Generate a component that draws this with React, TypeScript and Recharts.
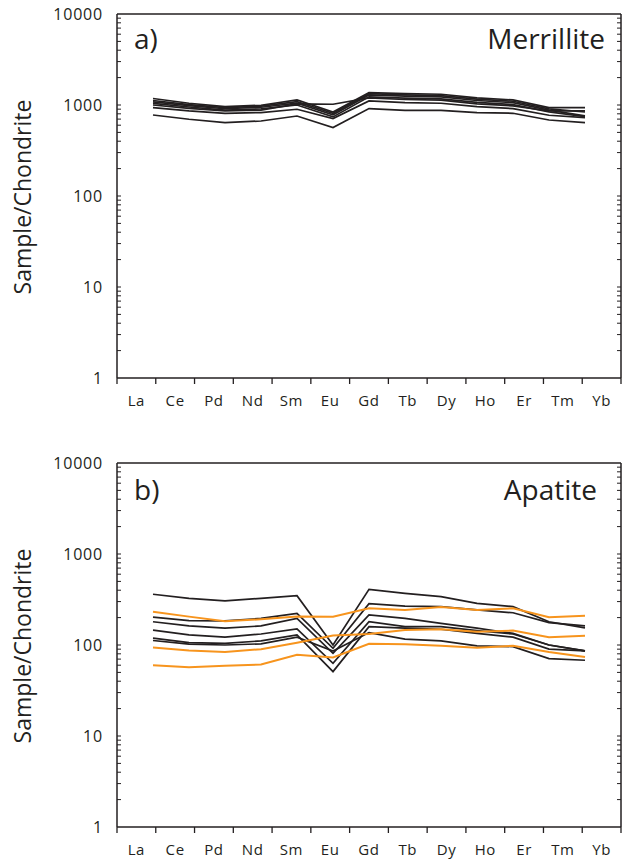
import React from "react";
import { LineChart, Line, XAxis, YAxis } from "recharts";

const elements = ["La", "Ce", "Pd", "Nd", "Sm", "Eu", "Gd", "Tb", "Dy", "Ho", "Er", "Tm", "Yb"];
const decadeTicks = [1, 10, 100, 1000, 10000];
const minorTicks = [
  2, 3, 4, 5, 6, 7, 8, 9, 10, 20, 30, 40, 50, 60, 70, 80, 90, 100, 200, 300, 400, 500, 600, 700, 800, 900,
  1000, 2000, 3000, 4000, 5000, 6000, 7000, 8000, 9000,
];

// a) Merrillite
const m1 = [1178, 1045, 961, 994, 1137, 838, 1371, 1336, 1313, 1196, 1137, 937, 937];
const m2 = [1120, 1010, 935, 970, 1090, 810, 1330, 1290, 1270, 1160, 1100, 905, 838];
const m3 = [1080, 985, 910, 945, 1050, 780, 1290, 1250, 1230, 1120, 1060, 880, 760];
const m4 = [1040, 950, 880, 905, 1000, 740, 1230, 1190, 1170, 1070, 1010, 840, 746];
const m5 = [937, 860, 811, 826, 898, 709, 1109, 1064, 1045, 961, 914, 771, 727];
const m6 = [1000, 920, 860, 880, 1030, 1019, 1200, 1150, 1130, 1030, 980, 860, 860];
const m7 = [777, 697, 641, 667, 757, 565, 914, 875, 875, 826, 811, 684, 641];

// b) Apatite, black
const b1 = [361, 326, 305, 326, 348, 100, 409, 370, 340, 287, 264, 180, 154];
const b2 = [202, 185, 184, 196, 223, 92, 284, 268, 264, 243, 226, 176, 162];
const b3 = [180, 162, 153, 162, 196, 81, 214, 196, 173, 153, 134, 100, 86];
const b4 = [146, 129, 122, 132, 150, 63, 180, 159, 159, 144, 132, 100, 86];
const b5 = [119, 106, 104, 111, 129, 51, 159, 153, 149, 134, 122, 90, 86];
const b6 = [112, 102, 100, 103, 122, 86, 137, 116, 111, 98, 96, 71, 68];
// b) Apatite, orange
const o1 = [232, 205, 182, 192, 206, 205, 253, 243, 262, 243, 253, 202, 210];
const o2 = [94, 87, 84, 90, 106, 127, 132, 146, 149, 140, 144, 122, 126];
const o3 = [60, 57, 59, 61, 78, 73, 103, 102, 98, 93, 98, 84, 74];

const merrillite = { m1, m2, m3, m4, m5, m6, m7 };
const apatiteBlack = { b1, b2, b3, b4, b5, b6 };
const apatiteOrange = { o1, o2, o3 };

const buildRows = (series: Record<string, number[]>) =>
  elements.map((el, i) => {
    const row: Record<string, number | string> = { x: i, el };
    Object.entries(series).forEach(([k, v]) => (row[k] = v[i]));
    return row;
  });

const rowsA = buildRows(merrillite);
const rowsB = buildRows({ ...apatiteBlack, ...apatiteOrange });

// x domain is one step wider than the data on each side; axis ticks split it into 13 equal cells
const xDomain = [-1, elements.length];
const span = elements.length + 1;
const labelTicks = elements.map((_, k) => -1 + ((k + 0.5) * span) / elements.length);
const labelFor = (v: number) => elements[Math.round(((v + 1) * elements.length) / span - 0.5)] ?? "";

const FONT = "'Open Sans', sans-serif";
const INK = "#231f20";
const ORANGE = "#f7941d";

const CHART_W = 628;
const LEFT_W = 117; // label axis + frame axis
const RIGHT_M = 7; // right margin + frame axis
const LABEL_H = 30; // bottom frame axis + label axis

// frame ticks: outward at the cell borders along the bottom, inward minor ticks on both sides
function FrameTicks({ top, bottom }: { top: number; bottom: number }) {
  const left = LEFT_W;
  const right = CHART_W - RIGHT_M;
  const cell = (right - left) / elements.length;
  const yOf = (v: number) => bottom - ((bottom - top) * Math.log10(v)) / 4;
  return (
    <g>
      {Array.from({ length: elements.length + 1 }, (_, k) => (
        <line key={`bx${k}`} x1={left + k * cell} x2={left + k * cell} y1={bottom} y2={bottom + 6} stroke={INK} strokeWidth={1.3} />
      ))}
      {minorTicks.map((v) => (
        <line key={`ly${v}`} x1={left} x2={left + 4} y1={yOf(v)} y2={yOf(v)} stroke={INK} strokeWidth={1} />
      ))}
      {minorTicks.map((v) => (
        <line key={`ry${v}`} x1={right - 4} x2={right} y1={yOf(v)} y2={yOf(v)} stroke={INK} strokeWidth={1} />
      ))}
    </g>
  );
}

function Panel({
  rows,
  black,
  orange,
  tag,
  title,
  height,
  top,
  bottom,
  titleY,
  titleRight,
  labelY,
}: {
  rows: any[];
  black: string[];
  orange: string[];
  tag: string;
  title: string;
  height: number;
  top: number;
  bottom: number;
  titleY: number;
  titleRight: number;
  labelY: number;
}) {
  return (
    <LineChart width={CHART_W} height={height} data={rows} margin={{ top, right: 6, bottom, left: 0 }}>
      <XAxis
        xAxisId="a"
        dataKey="x"
        type="number"
        domain={xDomain}
        allowDataOverflow
        tick={false}
        tickLine={false}
        height={1}
        stroke={INK}
        strokeWidth={1.5}
      />
      <XAxis
        xAxisId="b"
        dataKey="x"
        type="number"
        domain={xDomain}
        ticks={labelTicks}
        interval={0}
        allowDataOverflow
        tickFormatter={labelFor}
        tickLine={false}
        axisLine={false}
        tickMargin={10}
        height={29}
        tick={{ fill: INK, fontSize: 15, fontFamily: FONT, letterSpacing: 0.6 }}
      />
      <XAxis
        xAxisId="c"
        orientation="top"
        dataKey="x"
        type="number"
        domain={xDomain}
        allowDataOverflow
        tick={false}
        tickLine={false}
        height={1}
        stroke={INK}
        strokeWidth={1.5}
      />
      <YAxis
        yAxisId="a"
        scale="log"
        domain={[1, 10000]}
        allowDataOverflow
        width={1}
        tick={false}
        tickLine={false}
        stroke={INK}
        strokeWidth={1.5}
      />
      <YAxis
        yAxisId="b"
        scale="log"
        domain={[1, 10000]}
        ticks={decadeTicks}
        interval={0}
        allowDataOverflow
        width={116}
        tickLine={false}
        axisLine={false}
        tickMargin={7}
        tick={{ fill: INK, fontSize: 16, fontFamily: FONT, letterSpacing: 0.8 }}
      />
      <YAxis
        yAxisId="c"
        orientation="right"
        scale="log"
        domain={[1, 10000]}
        allowDataOverflow
        width={1}
        tick={false}
        tickLine={false}
        stroke={INK}
        strokeWidth={1.5}
      />
      {black.map((k) => (
        <Line
          key={k}
          xAxisId="a"
          yAxisId="a"
          dataKey={k}
          stroke={INK}
          strokeWidth={1.7}
          dot={false}
          isAnimationActive={false}
        />
      ))}
      {orange.map((k) => (
        <Line
          key={k}
          xAxisId="a"
          yAxisId="a"
          dataKey={k}
          stroke={ORANGE}
          strokeWidth={2}
          dot={false}
          isAnimationActive={false}
        />
      ))}
      <FrameTicks top={top + 1} bottom={height - bottom - LABEL_H} />
      <text x={134} y={titleY} fontSize={28} fontFamily={FONT} fill={INK}>
        {tag}
      </text>
      <text x={titleRight} y={titleY} fontSize={28} fontFamily={FONT} fill={INK} textAnchor="end">
        {title}
      </text>
      <text
        transform={`translate(31, ${labelY}) rotate(-90)`}
        fontSize={23}
        fontFamily={FONT}
        fill={INK}
        textAnchor="middle"
      >
        Sample/Chondrite
      </text>
    </LineChart>
  );
}

export default function App() {
  return (
    <div style={{ position: "absolute", left: 0, top: 0, width: 628, height: 862, background: "#fff" }}>
      <div style={{ position: "absolute", left: 0, top: 0 }}>
        <Panel
          rows={rowsA}
          black={Object.keys(merrillite)}
          orange={[]}
          tag="a)"
          title="Merrillite"
          height={430}
          top={13}
          bottom={22}
          titleY={49}
          titleRight={605}
          labelY={197}
        />
      </div>
      <div style={{ position: "absolute", left: 0, top: 430 }}>
        <Panel
          rows={rowsB}
          black={Object.keys(apatiteBlack)}
          orange={Object.keys(apatiteOrange)}
          tag="b)"
          title="Apatite"
          height={432}
          top={32}
          bottom={5}
          titleY={70}
          titleRight={597}
          labelY={216}
        />
      </div>
    </div>
  );
}
